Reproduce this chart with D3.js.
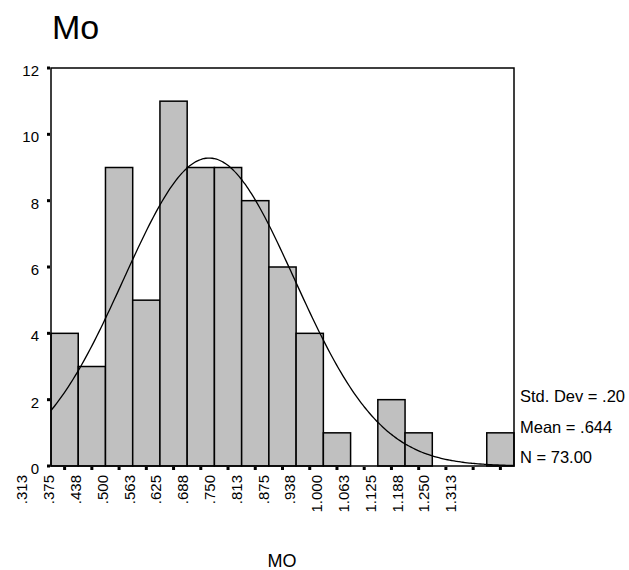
<html>
<script src='https://d3js.org/d3.v7.min.js'></script>
<style>
    body { margin: 0; background: white; }
    text { font-family: Arial, "Liberation Sans", sans-serif; fill: black; }
    .bar { fill: #c0c0c0; stroke: black; stroke-width: 1.5; }
</style>
<body>
<svg width=629 height=570 id="chart"></svg>
<script>
// histogram counts per bin (17 bins, width .0625)
var binCounts = [4, 3, 9, 5, 11, 9, 9, 8, 6, 4, 1, 0, 2, 1, 0, 0, 1];
var binLabels = [".313", ".375", ".438", ".500", ".563", ".625", ".688", ".750", ".813",
                 ".875", ".938", "1.000", "1.063", "1.125", "1.188", "1.250", "1.313"];
var yTicks = [0, 2, 4, 6, 8, 10, 12];
var statLines = ["Std. Dev = .20", "Mean = .644", "N = 73.00"];
var binStart = 0.28125, binWidth = 0.0625;
var meanVal = 0.644, sdVal = 0.196, nVal = 73;

var svg = d3.select("#chart");
var pLeft = 51, pRight = 514, pTop = 68, pBottom = 466;

var x = d3.scaleLinear()
    .domain([binStart, binStart + binCounts.length * binWidth])
    .range([pLeft, pRight]);
var y = d3.scaleLinear().domain([0, 12]).range([pBottom, pTop]);
var labelX = d3.scalePoint().domain(binLabels).range([22, 451]);

var bins = binCounts.map(function(c, i) {
    return { count: c, x0: binStart + i * binWidth, x1: binStart + (i + 1) * binWidth };
});

// title
svg.append("text").attr("x", 52).attr("y", 39)
    .style("font-size", "34px").text("Mo");

// bars
svg.selectAll(".bar")
    .data(bins.filter(function(d) { return d.count > 0; }))
    .enter()
    .append("rect")
    .attr("class", "bar")
    .attr("x", function(d) { return x(d.x0); })
    .attr("y", function(d) { return y(d.count); })
    .attr("width", function(d) { return x(d.x1) - x(d.x0); })
    .attr("height", function(d) { return pBottom - y(d.count); });

// normal curve from mean / sd / N
var k = nVal * binWidth / (sdVal * Math.sqrt(2 * Math.PI));
var xs = d3.range(x.domain()[0], x.domain()[1] + 0.0001, 0.005);
var line = d3.line()
    .x(function(v) { return x(v); })
    .y(function(v) { return y(k * Math.exp(-0.5 * Math.pow((v - meanVal) / sdVal, 2))); })
    .curve(d3.curveBasis);
svg.append("path").datum(xs)
    .attr("d", line)
    .attr("fill", "none").attr("stroke", "black").attr("stroke-width", 1.3);

// frame
svg.append("rect")
    .attr("x", pLeft).attr("y", pTop)
    .attr("width", pRight - pLeft).attr("height", pBottom - pTop)
    .attr("fill", "none").attr("stroke", "black").attr("stroke-width", 1.5);

// y ticks + labels
svg.selectAll(".ytick").data(yTicks).enter().append("rect")
    .attr("class", "ytick")
    .attr("x", 47).attr("y", function(d) { return y(d) - 1.5; })
    .attr("width", 3).attr("height", 3);
svg.selectAll(".ylab").data(yTicks).enter().append("text")
    .attr("class", "ylab")
    .attr("x", 39).attr("y", function(d) { return y(d) + 8; })
    .attr("text-anchor", "end").style("font-size", "15px")
    .text(function(d) { return d; });

// x tick marks at bin centres
svg.selectAll(".xtick").data(bins).enter().append("rect")
    .attr("class", "xtick")
    .attr("x", function(d) { return x((d.x0 + d.x1) / 2) - 1.5; })
    .attr("y", 467).attr("width", 3).attr("height", 3);

// x tick labels (rotated)
svg.selectAll(".xlab").data(binLabels).enter().append("text")
    .attr("class", "xlab")
    .attr("transform", function(d) { return "translate(" + labelX(d) + ",475) rotate(-90)"; })
    .attr("dy", "0.35em")
    .attr("text-anchor", "end")
    .style("font-size", "15px")
    .text(function(d) { return d; });

// stats
svg.selectAll(".stat").data(statLines).enter().append("text")
    .attr("class", "stat")
    .attr("x", 520).attr("y", function(d, i) { return 402 + i * 30.5; })
    .style("font-size", "16.5px")
    .text(function(d) { return d; });

// axis title
svg.append("text").attr("x", 282).attr("y", 567)
    .attr("text-anchor", "middle").style("font-size", "18px").text("MO");
</script>
</body>
</html>
